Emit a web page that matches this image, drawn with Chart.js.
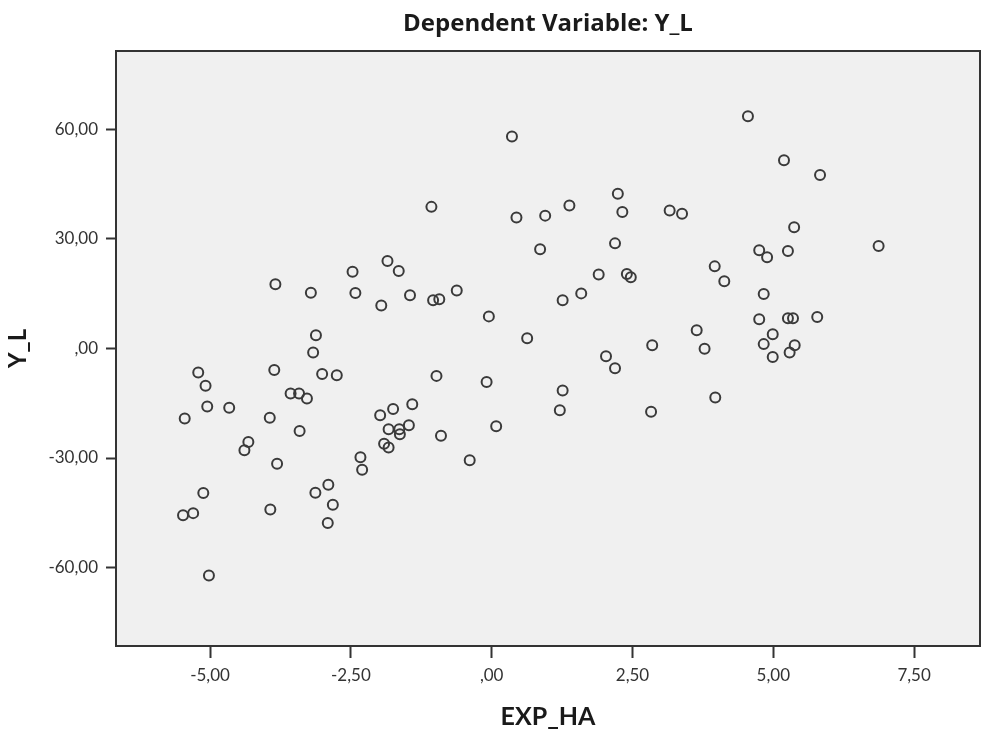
<!DOCTYPE html>
<html lang="en">
<head>
    <meta charset="UTF-8">
    <title>Dependent Variable: Y_L</title>
    <script src="https://cdn.jsdelivr.net/npm/chart.js"></script>
    <style>
        body {
            margin: 0;
            padding: 0;
            background-color: #ffffff;
        }

        .chart-box {
            width: 982px;
            height: 729px;
        }
    </style>
</head>
<body>

<div class="chart-box">
    <canvas id="scatterChart" width="982" height="729"></canvas>
</div>

<script>
    // Valores (EXP_HA x Y_L)
    const expHa = [
        -3.84, -3.21, -2.47, -2.42, -1.85, -1.65, -1.96, -3.12, -3.17, -5.21,
        -5.08, -5.05, -5.45, -4.66, -3.86, -3.94, -3.57, -3.42, -3.28, -3.01,
        -2.75, -3.41, -4.32, -4.39, -3.81, -5.12, -5.48, -5.30, -5.02, -3.93,
        -3.13, -2.90, -2.82, -2.91, -2.33, -2.30, -1.98, -1.75, -1.83, -1.64,
        -1.63, -1.47, -1.91, -1.83, -1.41, -0.98, -0.90, -0.39, -0.09, 0.08,
        0.63, 1.26, 1.21, 2.03, 2.19, 2.85, 2.83, 0.36, -1.07, 0.44,
        0.95, 1.38, 2.24, 2.32, 3.16, 0.86, 2.19, -1.45, -1.04, -0.93,
        -0.62, 1.90, 2.40, 2.47, 1.59, 1.26, -0.05, 4.55, 5.19, 5.83,
        3.38, 5.37, 6.87, 4.75, 4.89, 5.26, 3.96, 4.13, 4.83, 4.75,
        5.26, 5.35, 5.78, 3.64, 3.78, 4.99, 4.83, 5.38, 5.29, 4.99,
        3.97
    ];

    const yL = [
        17.6, 15.3, 21.0, 15.2, 24.0, 21.2, 11.8, 3.6, -1.1, -6.6,
        -10.2, -15.9, -19.2, -16.2, -5.9, -19.0, -12.3, -12.3, -13.7, -7.0,
        -7.3, -22.6, -25.6, -27.9, -31.6, -39.6, -45.7, -45.1, -62.2, -44.1,
        -39.5, -37.3, -42.8, -47.8, -29.8, -33.2, -18.3, -16.6, -22.1, -22.1,
        -23.5, -21.0, -26.1, -27.1, -15.3, -7.5, -23.9, -30.6, -9.2, -21.3,
        2.8, -11.5, -16.9, -2.1, -5.4, 0.9, -17.3, 58.1, 38.8, 35.9,
        36.4, 39.2, 42.4, 37.4, 37.8, 27.2, 28.8, 14.6, 13.2, 13.5,
        15.9, 20.3, 20.4, 19.5, 15.1, 13.2, 8.8, 63.6, 51.6, 47.5,
        36.9, 33.2, 28.1, 26.9, 25.0, 26.7, 22.5, 18.4, 14.9, 8.0,
        8.3, 8.3, 8.6, 5.0, -0.1, 3.9, 1.2, 0.9, -1.1, -2.3,
        -13.4
    ];

    // Marcas dos eixos
    const xTicks = [-5, -2.5, 0, 2.5, 5, 7.5];
    const yTicks = [-60, -30, 0, 30, 60];

    // Formato SPSS: vírgula decimal, sem zero à esquerda
    function formatTick(v) {
        let s = Math.abs(v).toFixed(2).replace('.', ',');
        if (s.startsWith('0,')) s = s.slice(1);
        return (v < 0 ? '-' : '') + s;
    }

    // Fundo e moldura da área do gráfico
    const plotFrame = {
        id: 'plotFrame',
        beforeDatasetsDraw(chart) {
            const {ctx, chartArea: a} = chart;
            ctx.save();
            ctx.fillStyle = '#f0f0f0';
            ctx.fillRect(a.left, a.top, a.right - a.left, a.bottom - a.top);
            ctx.restore();
        },
        afterDatasetsDraw(chart) {
            const {ctx, chartArea: a} = chart;
            ctx.save();
            ctx.strokeStyle = '#333333';
            ctx.lineWidth = 2;
            ctx.strokeRect(a.left, a.top, a.right - a.left, a.bottom - a.top);
            ctx.restore();
        }
    };

    const ctx = document.getElementById('scatterChart').getContext('2d');
    new Chart(ctx, {
        type: 'scatter',
        data: {
            datasets: [{
                data: expHa.map((x, i) => ({x: x, y: yL[i]})),
                pointStyle: 'circle',
                pointRadius: 5,
                pointHoverRadius: 5,
                borderWidth: 2,
                borderColor: '#3a3a3a',
                backgroundColor: 'rgba(0,0,0,0)'
            }]
        },
        options: {
            responsive: false,
            animation: false,
            layout: {
                autoPadding: false,
                padding: {left: 0, right: 2, top: 0, bottom: 0}
            },
            plugins: {
                legend: {display: false},
                tooltip: {enabled: false},
                title: {
                    display: true,
                    fullSize: false,
                    text: 'Dependent Variable: Y_L',
                    color: '#1a1a1a',
                    font: {family: 'Open Sans', size: 24, weight: 'bold', lineHeight: 1.2},
                    padding: {top: 10, bottom: 12.2}
                }
            },
            scales: {
                x: {
                    type: 'linear',
                    min: -6.67,
                    max: 8.67,
                    afterBuildTicks: scale => {
                        scale.ticks = xTicks.map(v => ({value: v}));
                    },
                    afterFit: scale => {
                        scale.height = 83;
                    },
                    ticks: {
                        color: '#333333',
                        font: {family: 'Lato', size: 17},
                        padding: 7,
                        maxRotation: 0,
                        callback: v => formatTick(v)
                    },
                    grid: {
                        drawOnChartArea: false,
                        drawTicks: true,
                        tickLength: 12,
                        tickWidth: 2,
                        tickColor: '#333333'
                    },
                    border: {display: true, color: '#333333', width: 2},
                    title: {
                        display: true,
                        text: 'EXP_HA',
                        color: '#1a1a1a',
                        font: {family: 'Lato', size: 25, weight: 'bold', lineHeight: 1},
                        padding: {top: 0, bottom: 0}
                    }
                },
                y: {
                    type: 'linear',
                    min: -81.5,
                    max: 81.5,
                    afterBuildTicks: scale => {
                        scale.ticks = yTicks.map(v => ({value: v}));
                    },
                    afterFit: scale => {
                        scale.width = 116;
                    },
                    ticks: {
                        color: '#333333',
                        font: {family: 'Lato', size: 17},
                        padding: 8,
                        callback: v => formatTick(v)
                    },
                    grid: {
                        drawOnChartArea: false,
                        drawTicks: true,
                        tickLength: 10,
                        tickWidth: 2,
                        tickColor: '#333333'
                    },
                    border: {display: true, color: '#333333', width: 2},
                    title: {
                        display: true,
                        text: 'Y_L',
                        color: '#1a1a1a',
                        font: {family: 'Lato', size: 24, weight: 'bold'},
                        padding: {top: 4, bottom: 0}
                    }
                }
            }
        },
        plugins: [plotFrame]
    });
</script>
</body>
</html>
